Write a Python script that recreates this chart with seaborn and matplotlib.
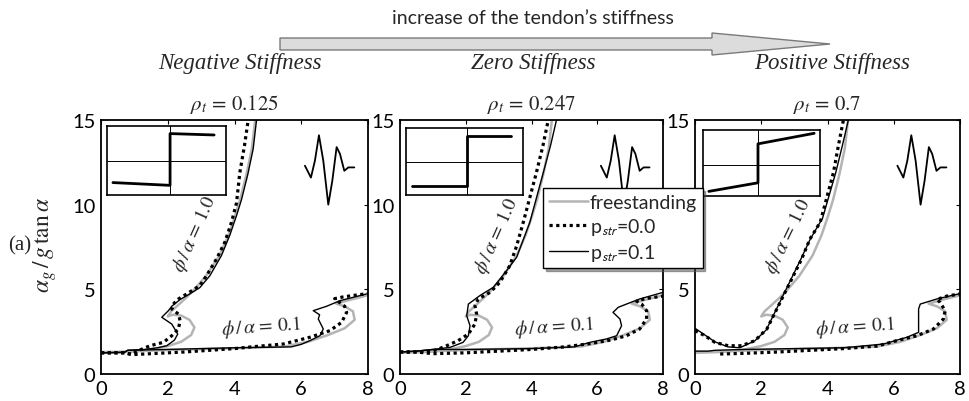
import numpy as np
import matplotlib
matplotlib.use("Agg")
import matplotlib.pyplot as plt
from matplotlib.patches import Polygon
from matplotlib.lines import Line2D
import seaborn as sns

# ---------------- data ----------------
xticks = [0, 2, 4, 6, 8]
yticks = [0, 5, 10, 15]
panel_titles = [r"$\rho_t$ = 0.125", r"$\rho_t$ = 0.247", r"$\rho_t$ = 0.7"]
stiff_labels = ["Negative Stiffness", "Zero Stiffness", "Positive Stiffness"]
legend_labels = ["freestanding", r"p$_{\mathsf{str}}$=0.0", r"p$_{\mathsf{str}}$=0.1"]

# freestanding (same in every panel)
fs10_x = [0.0, 0.8, 1.5, 2.0, 2.4, 2.7, 2.8, 2.65, 2.4, 2.15, 2.0, 2.1, 2.3, 2.55, 2.8, 3.15, 3.55, 3.82, 4.02, 4.17, 4.36, 4.52, 4.62]
fs10_y = [1.25, 1.3, 1.45, 1.65, 1.9, 2.3, 2.75, 3.2, 3.45, 3.5, 3.4, 3.7, 4.05, 4.5, 5.0, 5.8, 7.0, 8.2, 9.35, 10.3, 11.8, 13.3, 15.0]
fs01_x = [0.0, 0.8, 2.0, 4.0, 5.5, 6.2, 6.8, 7.3, 7.6, 7.55, 7.3, 7.05, 7.4, 8.0]
fs01_y = [1.3, 1.32, 1.42, 1.52, 1.62, 1.9, 2.3, 2.7, 3.2, 3.7, 4.0, 4.15, 4.35, 4.65]

# panel 1, rho_t = 0.125
p1_dot10_x = [0.0, 0.7, 0.9, 1.2, 1.47, 1.87, 2.12, 2.32, 2.37, 2.32, 2.12, 2.15, 2.32, 2.57, 2.96, 3.16, 3.46, 3.71, 3.91, 4.06, 4.16, 4.3, 4.41]
p1_dot10_y = [1.25, 1.25, 1.15, 1.45, 1.67, 1.87, 2.26, 2.66, 3.15, 3.54, 3.84, 4.1, 4.43, 4.73, 5.22, 5.8, 6.79, 7.78, 8.96, 10.1, 11.9, 13.5, 15.0]
p1_sol10_x = [0.0, 0.7, 0.8, 1.3, 1.7, 1.97, 2.2, 2.3, 2.12, 1.82, 2.02, 2.12, 2.37, 2.66, 2.96, 3.26, 3.61, 3.86, 4.06, 4.21, 4.4, 4.56, 4.66]
p1_sol10_y = [1.25, 1.28, 1.4, 1.45, 1.55, 1.67, 2.0, 2.36, 2.95, 3.35, 3.74, 4.0, 4.4, 4.73, 5.1, 5.8, 7.0, 8.2, 9.35, 10.3, 11.8, 13.3, 15.0]
p1_dot01_x = [0.0, 0.7, 1.0, 1.5, 2.5, 4.0, 4.5, 5.46, 6.26, 6.86, 7.21, 7.36, 7.3, 7.1, 7.0, 7.25, 7.6, 8.0]
p1_dot01_y = [1.25, 1.25, 1.15, 1.2, 1.3, 1.5, 1.6, 1.77, 2.17, 2.56, 3.05, 3.64, 4.0, 4.3, 4.45, 4.55, 4.65, 4.75]
p1_sol01_x = [0.0, 0.7, 0.8, 2.0, 4.0, 5.7, 6.0, 6.26, 6.56, 6.66, 6.51, 6.55, 6.36, 6.76, 7.16, 7.96]
p1_sol01_y = [1.25, 1.28, 1.4, 1.45, 1.55, 1.6, 1.75, 1.97, 2.26, 2.66, 3.25, 3.5, 3.74, 4.0, 4.33, 4.73]

# panel 2, rho_t = 0.247
p2_dot10_x = [0.0, 0.5, 1.0, 1.42, 1.77, 2.08, 2.28, 2.33, 2.28, 2.38, 2.74, 3.04, 3.34, 3.55, 3.75, 4.15, 4.35, 4.51]
p2_dot10_y = [1.3, 1.3, 1.35, 1.67, 1.97, 2.36, 2.95, 3.54, 4.03, 4.43, 4.82, 5.42, 6.4, 7.58, 8.96, 11.9, 13.5, 15.0]
p2_sol10_x = [0.0, 0.5, 1.0, 1.52, 1.92, 2.08, 2.13, 2.03, 2.08, 2.43, 2.84, 3.24, 3.55, 3.95, 4.36, 4.58, 4.76]
p2_sol10_y = [1.3, 1.35, 1.45, 1.57, 1.87, 2.26, 2.85, 3.44, 4.13, 4.63, 5.12, 6.1, 6.9, 8.96, 11.9, 13.5, 15.0]
p2_dot01_x = [0.0, 0.5, 1.0, 2.0, 3.0, 4.0, 5.0, 5.8, 6.4, 6.89, 7.29, 7.5, 7.5, 7.35, 7.2, 7.45, 8.0]
p2_dot01_y = [1.3, 1.3, 1.2, 1.25, 1.35, 1.45, 1.6, 1.8, 2.0, 2.26, 2.66, 3.25, 3.74, 4.13, 4.3, 4.45, 4.6]
p2_sol01_x = [0.0, 0.5, 1.0, 2.0, 4.0, 5.3, 5.78, 6.28, 6.59, 6.74, 6.69, 6.48, 6.64, 6.89, 7.29, 8.0]
p2_sol01_y = [1.3, 1.35, 1.45, 1.45, 1.5, 1.6, 1.87, 2.07, 2.26, 2.85, 3.25, 3.64, 3.94, 4.13, 4.43, 4.82]

# panel 3, rho_t = 0.7
p3_dot10_x = [0.0, 0.3, 0.6, 1.0, 1.41, 1.81, 2.17, 2.42, 2.67, 2.92, 3.22, 3.47, 3.78, 4.18, 4.33, 4.48]
p3_dot10_y = [2.56, 2.26, 1.87, 1.67, 1.67, 1.97, 2.66, 3.64, 4.63, 5.61, 6.79, 7.97, 8.96, 11.9, 13.5, 15.0]
p3_sol10_x = [0.0, 0.3, 0.6, 1.0, 1.35, 1.8, 2.15, 2.4, 2.65, 2.9, 3.2, 3.48, 3.85, 4.25, 4.45, 4.63]
p3_sol10_y = [2.7, 2.3, 1.9, 1.6, 1.55, 1.95, 2.6, 3.6, 4.6, 5.6, 6.8, 7.97, 9.2, 11.9, 13.5, 15.0]
p3_dot01_x = [0.76, 1.5, 2.5, 3.5, 4.5, 5.5, 6.09, 6.7, 7.2, 7.5, 7.55, 7.4, 7.3, 7.6, 8.0]
p3_dot01_y = [1.18, 1.22, 1.3, 1.4, 1.5, 1.65, 1.97, 2.26, 2.66, 3.25, 3.74, 4.23, 4.4, 4.6, 4.73]
p3_sol01_x = [0.0, 0.4, 0.6, 1.5, 3.0, 4.5, 5.69, 6.4, 6.75, 6.75, 6.75, 6.8, 7.3, 7.96]
p3_sol01_y = [1.35, 1.35, 1.4, 1.45, 1.5, 1.55, 1.77, 2.17, 2.46, 3.05, 3.84, 4.13, 4.43, 4.73]

# ground-motion pulse sketch (same in every panel)
wav_x = [6.11, 6.29, 6.41, 6.53, 6.66, 6.81, 6.93, 7.06, 7.16, 7.29, 7.41, 7.59]
wav_y = [12.3, 11.6, 12.6, 14.1, 12.6, 10.0, 11.4, 13.4, 13.0, 12.0, 12.2, 12.2]

# inset force-displacement sketches (inset coordinates 0..1)
ins1_x = [0.05, 0.53, 0.53, 0.9]
ins1_y = [0.18, 0.14, 0.89, 0.87]
ins2_x = [0.05, 0.52, 0.52, 0.9]
ins2_y = [0.13, 0.13, 0.88, 0.88]
ins3_x = [0.05, 0.47, 0.47, 0.95]
ins3_y = [0.07, 0.20, 0.79, 0.95]
ins_vline = [0.53, 0.52, 0.47]
ins_hline = [0.5, 0.5, 0.47]

curve_labels_10 = [(2.8, 8.3, 66), (2.95, 8.2, 66), (2.8, 8.2, 64)]
curve_labels_01 = [(4.8, 2.85, 4), (4.7, 2.8, 4), (4.85, 2.85, 4)]

# ---------------- style ----------------
sns.set_style("white")
plt.rcParams["font.family"] = ["Lato", "DejaVu Sans"]
plt.rcParams["mathtext.fontset"] = "stix"

W, H = 969, 402
fig = plt.figure(figsize=(W / 100, H / 100), dpi=100)

ax_px = [(101, 368), (400, 663), (695, 960)]
ytop, ybot = 121, 375
ins_px = [(107, 127, 226, 196), (406, 129, 523, 196), (703, 131, 820, 197)]

panels = [
    (p1_dot10_x, p1_dot10_y, p1_sol10_x, p1_sol10_y, p1_dot01_x, p1_dot01_y, p1_sol01_x, p1_sol01_y),
    (p2_dot10_x, p2_dot10_y, p2_sol10_x, p2_sol10_y, p2_dot01_x, p2_dot01_y, p2_sol01_x, p2_sol01_y),
    (p3_dot10_x, p3_dot10_y, p3_sol10_x, p3_sol10_y, p3_dot01_x, p3_dot01_y, p3_sol01_x, p3_sol01_y),
]
insets = [(ins1_x, ins1_y), (ins2_x, ins2_y), (ins3_x, ins3_y)]

GRAY = "#b4b4b4"
dot_kw = dict(color="black", lw=2.3, linestyle=(0, (1.0, 1.1)))
sol_kw = dict(color="black", lw=1.0)
fs_kw = dict(color=GRAY, lw=1.8)

def draw(ax, x, y, **kw):
    sns.lineplot(x=np.array(x), y=np.array(y), ax=ax, sort=False, estimator=None, legend=False, **kw)

for i, (x0, x1) in enumerate(ax_px):
    ax = fig.add_axes([x0 / W, 1 - ybot / H, (x1 - x0) / W, (ybot - ytop) / H])
    d10x, d10y, s10x, s10y, d01x, d01y, s01x, s01y = panels[i]
    draw(ax, fs10_x, fs10_y, **fs_kw)
    draw(ax, fs01_x, fs01_y, **fs_kw)
    draw(ax, d10x, d10y, **dot_kw)
    draw(ax, d01x, d01y, **dot_kw)
    draw(ax, s10x, s10y, **sol_kw)
    draw(ax, s01x, s01y, **sol_kw)
    draw(ax, wav_x, wav_y, color="black", lw=1.3)
    ax.set_xlim(0, 8)
    ax.set_ylim(0, 15)
    ax.set_xticks(xticks)
    ax.set_yticks(yticks)
    ax.set_xlabel("")
    ax.set_ylabel("")
    ax.tick_params(direction="in", length=3, width=0.8, top=True, right=True,
                   labelsize=14.5, pad=4, colors="black")
    for s in ax.spines.values():
        s.set_linewidth(1.3)
        s.set_color("black")
    ax.text(0.5, 1.02, panel_titles[i], transform=ax.transAxes, ha="center", va="bottom",
            fontsize=15, family="STIXGeneral")
    lx, ly, rot = curve_labels_10[i]
    ax.text(lx, ly, r"$\phi\,/\,\alpha$ = 1.0", rotation=rot, ha="center", va="center",
            fontsize=14, family="STIXGeneral", rotation_mode="anchor")
    lx, ly, rot = curve_labels_01[i]
    ax.text(lx, ly, r"$\phi\,/\,\alpha$ = 0.1", rotation=rot, ha="center", va="center",
            fontsize=14, family="STIXGeneral", rotation_mode="anchor")

    # inset
    a, b, c, d = ins_px[i]
    iax = fig.add_axes([a / W, 1 - d / H, (c - a) / W, (d - b) / H])
    iax.set_xlim(0, 1)
    iax.set_ylim(0, 1)
    iax.axhline(ins_hline[i], color="black", lw=0.7)
    iax.axvline(ins_vline[i], color="black", lw=0.7)
    ix, iy = insets[i]
    draw(iax, ix, iy, color="black", lw=2.0)
    iax.set_xticks([])
    iax.set_yticks([])
    iax.set_xlabel("")
    iax.set_ylabel("")
    for s in iax.spines.values():
        s.set_linewidth(1.2)
        s.set_color("black")

# y label and (a)
fig.text(45 / W, 1 - 245 / H, r"$\alpha_g\,/\,g\,\tan\alpha$", rotation=90, ha="center", va="center",
         fontsize=17, family="STIXGeneral")
fig.text(20 / W, 1 - 246 / H, "(a)", ha="center", va="center", fontsize=15, family="Liberation Serif")

# legend
handles = [Line2D([], [], **fs_kw), Line2D([], [], **dot_kw), Line2D([], [], **sol_kw)]
leg = fig.legend(handles, legend_labels, loc="upper left", bbox_to_anchor=(543 / W, 1 - 189 / H),
                 frameon=True, fancybox=False, shadow=True, fontsize=14, borderaxespad=0,
                 handlelength=2.0, handletextpad=0.1, labelspacing=0.25, borderpad=0.3)
leg.get_frame().set_edgecolor("black")
leg.get_frame().set_linewidth(1.0)

# top annotation: arrow and texts
fig.text(533 / W, 1 - 18 / H, "increase of the tendon\u2019s stiffness", ha="center", va="center", fontsize=14)
yc = 45
body_h, head_h = 6, 11
x_start, x_head, x_tip = 280, 712, 830
pts = [(x_start, yc - body_h), (x_head, yc - body_h), (x_head, yc - head_h), (x_tip, yc),
       (x_head, yc + head_h), (x_head, yc + body_h), (x_start, yc + body_h)]
pts = [(px / W, 1 - py / H) for px, py in pts]
fig.patches.append(Polygon(pts, closed=True, transform=fig.transFigure, facecolor="#dcdcdc",
                           edgecolor="#7a7a7a", lw=1.0))
for cx, lab in zip([240, 533, 832], stiff_labels):
    fig.text(cx / W, 1 - 63 / H, lab, ha="center", va="center", fontsize=16.5,
             family="Liberation Serif", style="italic")

fig.savefig("out.png", dpi=100)
